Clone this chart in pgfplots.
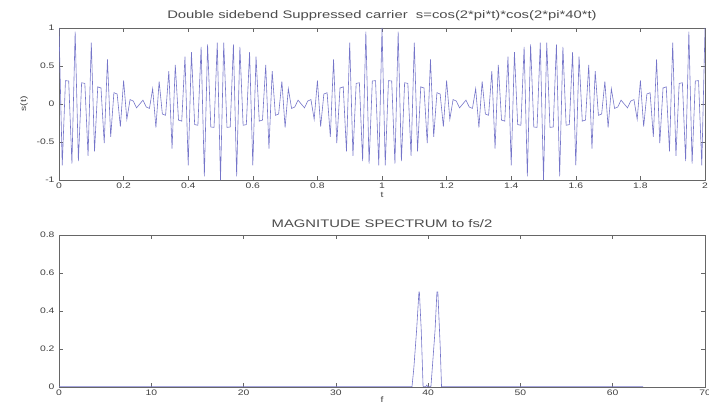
\documentclass[border=0pt]{standalone}
\usepackage{fontspec}
\setmainfont{Liberation Sans}[FakeStretch=1.3]
\usepackage{pgfplots}
\pgfplotsset{compat=1.18}
\definecolor{sig}{rgb}{0.46,0.46,0.79}
\definecolor{axc}{rgb}{0.4,0.4,0.4}
\begin{document}
\begin{tikzpicture}[x=1bp,y=1bp]
\path[use as bounding box] (0,0) rectangle (709,411);
\pgfplotsset{
  every axis/.append style={
    scale only axis, width=646bp, height=152bp,
    axis line style={axc, line width=0.5pt},
    tick style={axc, line width=0.5pt},
    major tick length=4bp,
    tick align=inside,
    ticklabel style={font=\fontsize{8}{9}\selectfont, text=black!75},
    xticklabel style={yshift=1bp},
    yticklabel style={xshift=-1bp},
    label style={font=\fontsize{8}{9}\selectfont, text=black!75},
    title style={font=\fontsize{11}{12}\selectfont, text=black!70},
    /pgf/number format/assume math mode=true,
    anchor=south west,
    clip=true,
  }
}
\begin{axis}[
  at={(59bp,231bp)},
  xmin=0, xmax=2, ymin=-1, ymax=1,
  xtick={0,0.2,...,2.01},
  xticklabels={0,0.2,0.4,0.6,0.8,1,1.2,1.4,1.6,1.8,2},
  ytick={-1,-0.5,0,0.5,1},
  yticklabels={-1,-0.5,0,0.5,1},
  title={Double sidebend Suppressed carrier\ \ s=cos(2*pi*t)*cos(2*pi*40*t)},
  title style={yshift=-2bp, xscale=1.04},
  xlabel={t}, xlabel style={yshift=3bp},
  ylabel={s(t)}, ylabel style={yshift=2bp},
]
\addplot[sig, line width=0.6pt] coordinates {
(0.00,1)(0.01,-0.80742)(0.02,0.30658)(0.03,0.30355)(0.04,-0.78360)
(0.05,0.95106)(0.06,-0.75221)(0.07,0.27961)(0.08,0.27080)(0.09,-0.68308)
(0.10,0.80902)(0.11,-0.62336)(0.12,0.22527)(0.13,0.21154)(0.14,-0.51569)
(0.15,0.58779)(0.16,-0.43350)(0.17,0.14887)(0.18,0.13158)(0.19,-0.29782)
(0.20,0.30902)(0.21,-0.20120)(0.22,0.05790)(0.23,0.03873)(0.24,-0.05080)
(0.25,0)(0.26,0.05080)(0.27,-0.03873)(0.28,-0.05790)(0.29,0.20120)
(0.30,-0.30902)(0.31,0.29782)(0.32,-0.13158)(0.33,-0.14887)(0.34,0.43350)
(0.35,-0.58779)(0.36,0.51569)(0.37,-0.21154)(0.38,-0.22527)(0.39,0.62336)
(0.40,-0.80902)(0.41,0.68308)(0.42,-0.27080)(0.43,-0.27961)(0.44,0.75221)
(0.45,-0.95106)(0.46,0.78360)(0.47,-0.30355)(0.48,-0.30658)(0.49,0.80742)
(0.50,-1)(0.51,0.80742)(0.52,-0.30658)(0.53,-0.30355)(0.54,0.78360)
(0.55,-0.95106)(0.56,0.75221)(0.57,-0.27961)(0.58,-0.27080)(0.59,0.68308)
(0.60,-0.80902)(0.61,0.62336)(0.62,-0.22527)(0.63,-0.21154)(0.64,0.51569)
(0.65,-0.58779)(0.66,0.43350)(0.67,-0.14887)(0.68,-0.13158)(0.69,0.29782)
(0.70,-0.30902)(0.71,0.20120)(0.72,-0.05790)(0.73,-0.03873)(0.74,0.05080)
(0.75,0)(0.76,-0.05080)(0.77,0.03873)(0.78,0.05790)(0.79,-0.20120)
(0.80,0.30902)(0.81,-0.29782)(0.82,0.13158)(0.83,0.14887)(0.84,-0.43350)
(0.85,0.58779)(0.86,-0.51569)(0.87,0.21154)(0.88,0.22527)(0.89,-0.62336)
(0.90,0.80902)(0.91,-0.68308)(0.92,0.27080)(0.93,0.27961)(0.94,-0.75221)
(0.95,0.95106)(0.96,-0.78360)(0.97,0.30355)(0.98,0.30658)(0.99,-0.80742)
(1.00,1)(1.01,-0.80742)(1.02,0.30658)(1.03,0.30355)(1.04,-0.78360)
(1.05,0.95106)(1.06,-0.75221)(1.07,0.27961)(1.08,0.27080)(1.09,-0.68308)
(1.10,0.80902)(1.11,-0.62336)(1.12,0.22527)(1.13,0.21154)(1.14,-0.51569)
(1.15,0.58779)(1.16,-0.43350)(1.17,0.14887)(1.18,0.13158)(1.19,-0.29782)
(1.20,0.30902)(1.21,-0.20120)(1.22,0.05790)(1.23,0.03873)(1.24,-0.05080)
(1.25,0)(1.26,0.05080)(1.27,-0.03873)(1.28,-0.05790)(1.29,0.20120)
(1.30,-0.30902)(1.31,0.29782)(1.32,-0.13158)(1.33,-0.14887)(1.34,0.43350)
(1.35,-0.58779)(1.36,0.51569)(1.37,-0.21154)(1.38,-0.22527)(1.39,0.62336)
(1.40,-0.80902)(1.41,0.68308)(1.42,-0.27080)(1.43,-0.27961)(1.44,0.75221)
(1.45,-0.95106)(1.46,0.78360)(1.47,-0.30355)(1.48,-0.30658)(1.49,0.80742)
(1.50,-1)(1.51,0.80742)(1.52,-0.30658)(1.53,-0.30355)(1.54,0.78360)
(1.55,-0.95106)(1.56,0.75221)(1.57,-0.27961)(1.58,-0.27080)(1.59,0.68308)
(1.60,-0.80902)(1.61,0.62336)(1.62,-0.22527)(1.63,-0.21154)(1.64,0.51569)
(1.65,-0.58779)(1.66,0.43350)(1.67,-0.14887)(1.68,-0.13158)(1.69,0.29782)
(1.70,-0.30902)(1.71,0.20120)(1.72,-0.05790)(1.73,-0.03873)(1.74,0.05080)
(1.75,0)(1.76,-0.05080)(1.77,0.03873)(1.78,0.05790)(1.79,-0.20120)
(1.80,0.30902)(1.81,-0.29782)(1.82,0.13158)(1.83,0.14887)(1.84,-0.43350)
(1.85,0.58779)(1.86,-0.51569)(1.87,0.21154)(1.88,0.22527)(1.89,-0.62336)
(1.90,0.80902)(1.91,-0.68308)(1.92,0.27080)(1.93,0.27961)(1.94,-0.75221)
(1.95,0.95106)(1.96,-0.78360)(1.97,0.30355)(1.98,0.30658)(1.99,-0.80742)
(2.00,1)
};
\end{axis}
\begin{axis}[
  at={(59bp,24bp)},
  xmin=0, xmax=70, ymin=0, ymax=0.8,
  xtick={0,10,...,70},
  ytick={0,0.2,0.4,0.6,0.8},
  yticklabels={0,0.2,0.4,0.6,0.8},
  title={MAGNITUDE SPECTRUM to fs/2},
  title style={yshift=-2bp, xscale=1.04},
  xlabel={f}, xlabel style={yshift=5bp},
]
\addplot[sig, line width=0.6pt] coordinates {
(0,0.002)(38.25,0.002)(38.45,0.1)(38.75,0.3)(39.0,0.5)(39.05,0.5)(39.25,0.3)(39.45,0.002)
(39.75,0.002)(39.85,0.01)(39.95,0.002)
(40.3,0.002)(40.45,0.1)(40.75,0.3)(40.95,0.5)(41.05,0.5)(41.3,0.22)(41.45,0.002)
(63.3,0.002)
};
\end{axis}
\end{tikzpicture}
\end{document}
